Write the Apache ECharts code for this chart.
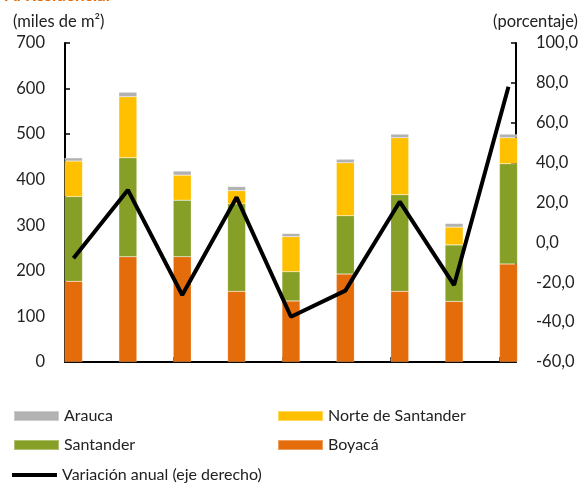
<!DOCTYPE html>
<html>
<head>
<meta charset="utf-8">
<script src="https://cdn.jsdelivr.net/npm/echarts@6/dist/echarts.min.js"></script>
<style>
  html, body { margin: 0; padding: 0; background: #fff; }
  #mychart { width: 581px; height: 484px; }
</style>
</head>
<body>
<div id="mychart"></div>
<script>
// trimestres
const categorias = ['jun-17', 'sep-17', 'dic-17', 'mar-18', 'jun-18', 'sep-18', 'dic-18', 'mar-19', 'jun-19'];
// miles de m2
const boyaca = [177, 231, 231, 155, 134, 193, 155, 133, 215];
const santander = [186, 217, 124, 192, 64, 128, 212, 124, 220];
const norteSantander = [78, 134, 55, 29, 77, 116, 125, 39, 57];
const arauca = [7, 10, 9, 9, 7, 8, 8, 8, 8];
// variación anual (%)
const variacion = [-8.0, 26.3, -26.4, 22.6, -37.3, -24.2, 20.4, -21.4, 78.1];

const fuente = 'Lato';
const myChart = echarts.init(document.getElementById('mychart'));

// el valor va primero para que el apilado se haga sobre el eje y
const barra = (name, color, arr) => ({
    name: name,
    type: 'bar',
    stack: 'total',
    xAxisIndex: 0,
    yAxisIndex: 0,
    barWidth: 18,
    encode: { x: 1, y: 0 },
    itemStyle: { color: color, borderColor: 'rgba(255,255,255,0.35)', borderWidth: 0.5 },
    data: arr.map((v, i) => [v, i])
});

const leyenda = (name, left, top, alto) => ({
    left: left, top: top, padding: 0,
    itemWidth: 45, itemHeight: alto || 10,
    textStyle: { fontSize: 16, color: '#222', fontFamily: fuente },
    data: [{ name: name, icon: 'rect' }]
});

myChart.setOption({
    animation: false,
    textStyle: { fontFamily: fuente },
    grid: { left: 65, right: 64, top: 43, bottom: 122, containLabel: false },
    graphic: [
        { type: 'text', left: 5, top: -13,
          style: { text: 'A. Residencial', fill: '#e46c0a', font: 'bold 17px ' + fuente } },
        { type: 'text', left: 13, top: 13,
          style: { text: '(miles de m²)', fill: '#222', font: '16.5px ' + fuente } },
        { type: 'text', right: 3, top: 13,
          style: { text: '(porcentaje)', fill: '#222', font: '16.5px ' + fuente } }
    ],
    legend: [
        leyenda('Arauca', 13, 408),
        leyenda('Norte de Santander', 277, 408),
        leyenda('Santander', 13, 437),
        leyenda('Boyacá', 277, 437),
        leyenda('Variación anual (eje derecho)', 12, 467, 4)
    ],
    xAxis: [
        {
            type: 'value',
            position: 'bottom',
            min: -0.156,
            max: 8.138,
            interval: 2,
            axisLine: { show: true, onZero: false, lineStyle: { color: '#000', width: 2 } },
            axisTick: { show: false },
            splitLine: { show: false },
            axisLabel: {
                showMinLabel: false,
                showMaxLabel: false,
                margin: 14,
                fontSize: 16.5,
                color: '#222',
                formatter: v => Number.isInteger(v) ? categorias[v] : ''
            }
        },
        {
            // marcas de la escala (entre trimestres)
            type: 'value',
            position: 'bottom',
            min: 0,
            max: 8.294,
            interval: 2,
            axisLine: { show: false, onZero: false },
            axisTick: { show: true, inside: true, length: 5, lineStyle: { color: '#000', width: 1.5 } },
            axisLabel: { show: false },
            splitLine: { show: false }
        }
    ],
    yAxis: [
        {
            type: 'value',
            position: 'left',
            min: 0,
            max: 700,
            interval: 100,
            axisLine: { show: true, onZero: false, lineStyle: { color: '#000', width: 2 } },
            axisTick: { show: true, inside: true, length: 5, lineStyle: { color: '#000', width: 1.5 } },
            splitLine: { show: false },
            axisLabel: { margin: 20, fontSize: 16.5, color: '#222' }
        },
        {
            type: 'value',
            position: 'right',
            min: -60,
            max: 100,
            interval: 20,
            axisLine: { show: true, onZero: false, lineStyle: { color: '#000', width: 2 } },
            axisTick: { show: true, inside: true, length: 5, lineStyle: { color: '#000', width: 1.5 } },
            splitLine: { show: false },
            axisLabel: {
                margin: 20, fontSize: 16.5, color: '#222',
                formatter: v => v.toFixed(1).replace('.', ',')
            }
        }
    ],
    series: [
        barra('Boyacá', '#e46c0a', boyaca),
        barra('Santander', '#86a027', santander),
        barra('Norte de Santander', '#ffc000', norteSantander),
        barra('Arauca', '#b2b2b2', arauca),
        {
            name: 'Variación anual (eje derecho)',
            type: 'line',
            xAxisIndex: 0,
            yAxisIndex: 1,
            symbol: 'none',
            lineStyle: { color: '#000', width: 4 },
            itemStyle: { color: '#000' },
            data: variacion.map((v, i) => [i, v])
        }
    ]
});

window.addEventListener('resize', () => {
    myChart.resize();
});
</script>
</body>
</html>
